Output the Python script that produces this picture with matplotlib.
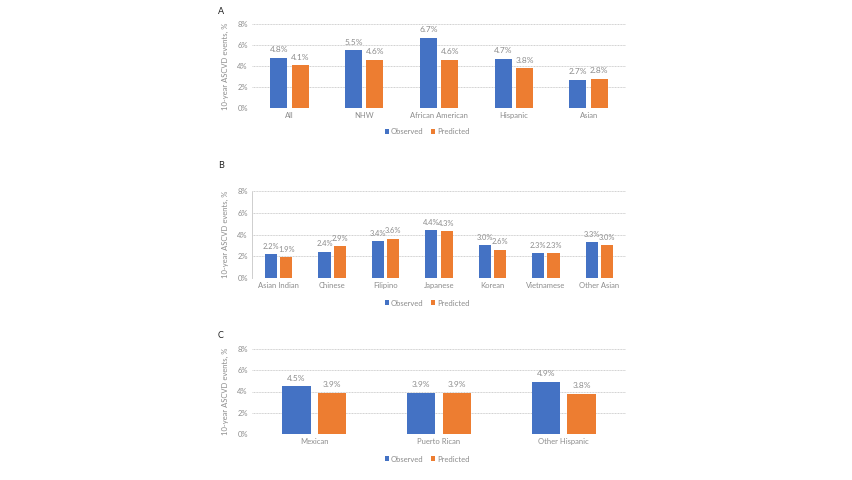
import numpy as np
import matplotlib.pyplot as plt

W, H = 853, 480

# Panel A
cats_a = ["All", "NHW", "African American", "Hispanic", "Asian"]
obs_a = [4.8, 5.5, 6.7, 4.7, 2.7]
pred_a = [4.1, 4.6, 4.6, 3.8, 2.8]

# Panel B
cats_b = ["Asian Indian", "Chinese", "Filipino", "Japanese", "Korean", "Vietnamese", "Other Asian"]
obs_b = [2.2, 2.4, 3.4, 4.4, 3.0, 2.3, 3.3]
pred_b = [1.9, 2.9, 3.6, 4.3, 2.6, 2.3, 3.0]

# Panel C
cats_c = ["Mexican", "Puerto Rican", "Other Hispanic"]
obs_c = [4.5, 3.9, 4.9]
pred_c = [3.9, 3.9, 3.8]

BLUE = "#4472C4"
ORANGE = "#ED7D31"
TXT = "#8c8c8c"
GRID = "#cfcfcf"

plt.rcParams["font.family"] = ["Lato", "DejaVu Sans"]

fig = plt.figure(figsize=(W / 100, H / 100), dpi=100)
fig.patch.set_facecolor("white")


def panel(cats, obs, pred, y0, y8, letter, letter_y, legend_y, left_spine=False, vfs=6):
    left, right = 252, 626
    ax = fig.add_axes([left / W, (H - y0) / H, (right - left) / W, (y0 - y8) / H])
    x = np.arange(len(cats))
    off, bw = 0.143, 0.225
    b1 = ax.bar(x - off, obs, bw, color=BLUE, label="Observed")
    b2 = ax.bar(x + off, pred, bw, color=ORANGE, label="Predicted")
    for bars, vals in ((b1, obs), (b2, pred)):
        for r, v in zip(bars, vals):
            ax.annotate(f"{v:.1f}%", (r.get_x() + r.get_width() / 2, v),
                        xytext=(0, 3.2), textcoords="offset points",
                        ha="center", va="bottom", fontsize=vfs, color=TXT)
    ax.set_xlim(-0.5, len(cats) - 0.5)
    ax.set_ylim(0, 8)
    ax.set_yticks([0, 2, 4, 6, 8])
    ax.set_yticklabels([f"{t}%" for t in [0, 2, 4, 6, 8]])
    ax.set_xticks(x)
    ax.set_xticklabels(cats)
    ax.tick_params(length=0, labelsize=5.5, colors=TXT, pad=3)
    ax.yaxis.grid(True, color=GRID, linewidth=0.7, linestyle=(0, (1, 0.6)))
    ax.set_axisbelow(True)
    for s in ax.spines.values():
        s.set_visible(False)
    if left_spine:
        ax.spines["left"].set_visible(True)
        ax.spines["left"].set_color(GRID)
        ax.spines["left"].set_linewidth(0.7)
        ax.spines["left"].set_linestyle((0, (1, 0.6)))
    fig.text(225 / W, 1 - ((y0 + y8) / 2) / H, "10-year ASCVD events, %",
             rotation=90, ha="center", va="center", fontsize=5.5, color=TXT)
    fig.text(218 / W, 1 - letter_y / H, letter, ha="left", va="center",
             fontsize=6.5, color="#222222")
    fig.legend(handles=[b1, b2], loc="center", bbox_to_anchor=(427 / W, 1 - legend_y / H),
               ncol=2, frameon=False, fontsize=5.5, labelcolor=TXT,
               handlelength=0.6, handleheight=0.6, handletextpad=0.2, columnspacing=1.0)
    return ax


panel(cats_a, obs_a, pred_a, 108, 24, "A", 12, 132)
panel(cats_b, obs_b, pred_b, 278, 191, "B", 165, 303, left_spine=True, vfs=5.4)
panel(cats_c, obs_c, pred_c, 434, 349, "C", 336, 459)

fig.savefig("out.png", dpi=100, facecolor="white")
